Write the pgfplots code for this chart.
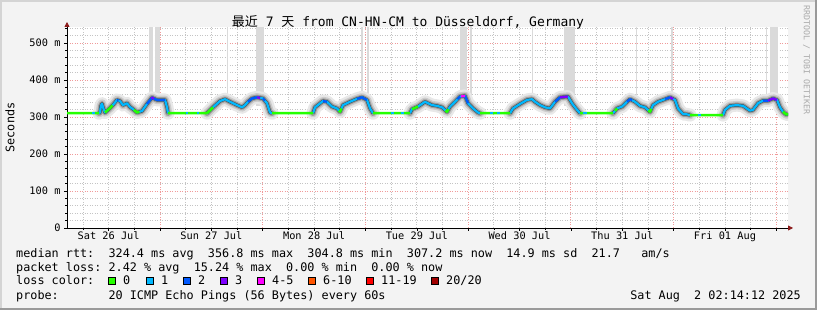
\documentclass[border=0pt]{standalone}
\usepackage{fontspec}
\usepackage{pgfplots}
\usepackage{pgfplotstable}
\pgfplotsset{compat=1.18}
\usetikzlibrary{arrows.meta}
\setmainfont{DejaVu Sans Mono}[WordSpace={1,0,0},PunctuationSpace=WordSpace]
\newfontfamily\cjk{Noto Sans CJK SC}
\frenchspacing
\definecolor{bg}{HTML}{F3F3F3}
\definecolor{bordL}{HTML}{D4D4D4}
\definecolor{bordD}{HTML}{9A9A9A}
\definecolor{l0}{HTML}{26FF00}
\definecolor{l1}{HTML}{00B8FF}
\definecolor{l2}{HTML}{0059FF}
\definecolor{l3}{HTML}{7E00FF}
\definecolor{l5}{HTML}{FF00FF}
\definecolor{l10}{HTML}{FF5500}
\definecolor{l19}{HTML}{FF0000}
\definecolor{l20}{HTML}{A00000}
\definecolor{majgrid}{HTML}{F09A9A}
\definecolor{mingrid}{HTML}{C4C4C4}
\definecolor{arrowred}{HTML}{8B1A1A}
\definecolor{lossbar}{HTML}{DADADA}
\definecolor{sig}{HTML}{AAAAAA}
\newcommand{\lgdfont}{\fontsize{11.8}{14}\selectfont}

% hours since Sat 26 Jul 00:00, median rtt in ms
\pgfplotstableread{
h v
9.75 310
9.98 312
10.2 330
10.45 336
10.8 322
11.15 312
12.32 324
13.2 335
13.95 346
14.65 343
15.36 332
16.29 337
16.99 327
17.69 321
18.63 312
19.79 316
20.96 335
22.13 352
23.30 346
24.00 346
25.17 346
25.64 326
25.87 310
nan nan
34.98 310
36.38 326
38.02 343
39.19 348
40.36 341
41.99 332
43.16 326
43.86 332
44.56 341
45.50 350
46.66 353
48.07 350
49.00 337
49.70 312
50.17 310
nan nan
59.75 310
60.21 326
62.08 343
63.02 341
64.19 328
65.36 323
66.06 314
66.76 332
68.39 341
70.03 349
71.20 353
72.36 346
73.07 323
73.77 310
nan nan
82.41 310
82.88 321
84.28 328
85.92 341
87.55 332
88.72 330
89.89 326
91.06 314
91.76 328
92.93 341
94.09 355
95.26 357
95.96 337
97.13 323
98.30 312
98.77 310
nan nan
105.78 310
106.48 323
108.11 335
109.75 346
110.92 348
111.62 341
112.79 332
113.95 326
115.12 323
116.29 341
117.46 353
119.33 355
120.26 337
120.96 326
122.13 310
nan nan
129.84 310
130.78 323
131.96 328
133.11 341
133.81 348
134.98 341
136.15 330
137.32 326
138.49 314
139.19 332
140.36 341
142.00 348
143.16 353
144.33 346
145.03 323
146.20 308
147.13 307
147.83 305
nan nan
155.54 305
156.01 319
157.18 330
158.81 332
160.21 330
161.85 317
162.55 319
163.72 337
164.89 344
166.06 344
167.23 350
168.16 346
168.86 326
169.56 314
170.26 307
170.73 307
}\humps

\pgfplotstableread{
h v
2.27 310
9.75 310
nan nan
25.87 310
34.98 310
nan nan
50.17 310
59.75 310
nan nan
73.77 310
82.41 310
nan nan
98.77 310
105.78 310
nan nan
122.13 310
129.84 310
nan nan
147.83 305
155.54 305
nan nan
11.15 312
12.32 324
12.9 331.3
nan nan
17.9 319
18.63 312
19.2 314
nan nan
34.98 310
36.38 326
nan nan
65.8 317.3
66.06 314
66.4 322.7
nan nan
82.88 321
84.28 328
nan nan
90.7 317.7
91.06 314
91.4 320.8
nan nan
130.3 316.4
130.78 323
nan nan
138.1 318
138.49 314
138.8 322
nan nan
169.56 314
170.26 307
170.73 307
}\lossz

\pgfplotstableread{
h v
8.0 310
8.7 310
nan nan
30.0 310
30.6 310
nan nan
32.6 310
33.1 310
nan nan
77.9 310
78.6 310
nan nan
80.2 310
80.9 310
nan nan
101.1 310
101.8 310
nan nan
102.7 310
103.4 310
nan nan
122.8 310
123.8 310
nan nan
149.7 305
150.4 305
}\lossa

\pgfplotstableread{
h v
13.95 346
14.3 344.5
nan nan
20.96 335
22.13 352
23.30 346
24.00 346
25.17 346
nan nan
44.56 341
45.50 350
46.66 353
nan nan
48.07 350
48.5 344
nan nan
62.08 343
63.02 341
nan nan
70.03 349
71.20 353
72.36 346
nan nan
93.5 347.9
94.09 355
nan nan
95.26 357
95.96 337
nan nan
116.29 341
117.46 353
nan nan
133.11 341
133.81 348
134.3 345.1
nan nan
142.00 348
143.16 353
nan nan
164.89 344
166.06 344
}\lossb

\pgfplotstableread{
h v
22.0 350.1
22.13 352
22.6 349.6
nan nan
46.66 353
47.4 351.4
nan nan
117.46 353
119.33 355
nan nan
143.16 353
143.9 348.6
nan nan
166.06 344
167.23 350
168.16 346
}\lossc

\pgfplotstableread{
h v
94.3 355.4
95.26 357
}\lossd

\newcommand{\lossbar}[2]{\addplot[fill=lossbar, draw=none, forget plot] coordinates {(#1,330) (#1,543) (#2,543) (#2,330)};}
\newcommand{\lbox}[3]{\draw[black, line width=0.6pt, fill=#2] (#1pt,26pt) rectangle ++(7pt,7pt);
  \node[anchor=base west, inner sep=0pt, font=\lgdfont] at (#1pt+15pt,25pt) {#3};}

\begin{document}
\begin{tikzpicture}
\useasboundingbox (0,0) rectangle (817pt,310pt);
\fill[bg] (0,0) rectangle (817pt,310pt);
\fill[bordL] (0,0) rectangle (2pt,310pt);
\fill[bordL] (0,308pt) rectangle (817pt,310pt);
\fill[bordD] (0,0) rectangle (817pt,2pt);
\fill[bordD] (815pt,0) rectangle (817pt,310pt);

\begin{axis}[
  at={(67pt,82pt)}, anchor=south west,
  scale only axis, width=721pt, height=201pt,
  xmin=2.27, xmax=170.73, ymin=0, ymax=543,
  axis x line=bottom, axis y line=left,
  axis line style={draw=black, line width=0.8pt, shorten >=-5pt, -{Triangle[length=5pt,width=5pt,color=arrowred]}},
  axis background/.style={fill=white},
  xtick={12,36,60,84,108,132,156},
  xticklabels={Sat 26 Jul,Sun 27 Jul,Mon 28 Jul,Tue 29 Jul,Wed 30 Jul,Thu 31 Jul,Fri 01 Aug},
  minor xtick={6,18,30,42,54,66,78,90,102,114,126,138,150,162},
  extra x ticks={24,48,72,96,120,144,168},
  extra x tick labels={},
  extra x tick style={grid=major, major x grid style={draw=majgrid, line width=0.8pt, dash pattern=on 1pt off 1.5pt}},
  ytick={0,100,200,300,400,500},
  yticklabels={0,100 m,200 m,300 m,400 m,500 m},
  minor ytick={20,40,60,80,120,140,160,180,220,240,260,280,320,340,360,380,420,440,460,480,520,540},
  grid=both,
  major x grid style={draw=mingrid, line width=0.8pt, dash pattern=on 1pt off 1.5pt},
  minor grid style={draw=mingrid, line width=0.8pt, dash pattern=on 1pt off 1.5pt},
  major y grid style={draw=majgrid, line width=0.8pt, dash pattern=on 1pt off 1.5pt},
  tick align=outside,
  major tick length=3pt, minor tick length=2pt,
  tick style={black, line width=0.6pt},
  ticklabel style={font=\fontsize{10.3}{12}\selectfont},
  xticklabel style={anchor=base, yshift=-9pt},
  unbounded coords=jump,
]
\lossbar{21.43}{22.36}
\lossbar{22.83}{24.0}
\lossbar{39.55}{39.8}
\lossbar{46.43}{48.30}
\lossbar{70.96}{71.43}
\lossbar{72.36}{72.83}
\lossbar{94.09}{95.73}
\lossbar{96.43}{96.90}
\lossbar{110.92}{111.15}
\lossbar{118.39}{120.96}
\lossbar{135.1}{135.35}
\lossbar{143.5}{143.75}
\lossbar{165.6}{165.85}
\lossbar{166.5}{168.4}
% smoke
\addplot[draw=black!9, line width=13pt, line join=round, line cap=round] table[x=h,y=v] {\humps};
\addplot[draw=black!20, line width=8.5pt, line join=round, line cap=round] table[x=h,y=v] {\humps};
\addplot[draw=black!38, line width=5.5pt, line join=round, line cap=round] table[x=h,y=v] {\humps};
\addplot[draw=black!70, line width=3.2pt, line join=round] table[x=h,y=v] {\humps};
% median coloured by loss
\addplot[draw=l1, line width=2.2pt, line join=round] table[x=h,y=v] {\humps};
\addplot[draw=l0, line width=2.5pt, line join=round] table[x=h,y=v] {\lossz};
\addplot[draw=l1, line width=2.5pt] table[x=h,y=v] {\lossa};
\addplot[draw=l2, line width=2.2pt, line join=round] table[x=h,y=v] {\lossb};
\addplot[draw=l3, line width=2.2pt, line join=round] table[x=h,y=v] {\lossc};
\addplot[draw=l5, line width=2.2pt, line join=round] table[x=h,y=v] {\lossd};
\end{axis}

% title and side texts
\node[anchor=base, inner sep=0pt, font=\fontsize{13}{15}\selectfont] at (408pt,283.5pt)
  {{\cjk 最近}~7~{\cjk 天}~from~CN-HN-CM~to~Düsseldorf,~Germany};
\node[rotate=90, inner sep=0pt, font=\lgdfont] at (10pt,182.5pt) {Seconds};
\node[rotate=-90, inner sep=0pt, text=sig, font=\fontsize{8.3}{10}\selectfont] at (806.5pt,250pt) {RRDTOOL~/~TOBI~OETIKER};

% legend lines
\node[anchor=base west, inner sep=0pt, font=\lgdfont] at (16pt,52pt)
  {median~rtt:~~324.4~ms~avg~~356.8~ms~max~~304.8~ms~min~~307.2~ms~now~~14.9~ms~sd~~21.7~~~am/s};
\node[anchor=base west, inner sep=0pt, font=\lgdfont] at (16pt,38.5pt)
  {packet~loss:~2.42~\%~avg~~15.24~\%~max~~0.00~\%~min~~0.00~\%~now};
\node[anchor=base west, inner sep=0pt, font=\lgdfont] at (16pt,25pt) {loss~color:};
\lbox{108}{l0}{0}
\lbox{146}{l1}{1}
\lbox{183}{l2}{2}
\lbox{220}{l3}{3}
\lbox{257}{l5}{4-5}
\lbox{308}{l10}{6-10}
\lbox{366}{l19}{11-19}
\lbox{431}{l20}{20/20}
\node[anchor=base west, inner sep=0pt, font=\lgdfont] at (16pt,10pt)
  {probe:~~~~~~~20~ICMP~Echo~Pings~(56~Bytes)~every~60s};
\node[anchor=base east, inner sep=0pt, font=\lgdfont] at (801pt,10pt)
  {Sat~Aug~~2~02:14:12~2025};
\end{tikzpicture}
\end{document}
